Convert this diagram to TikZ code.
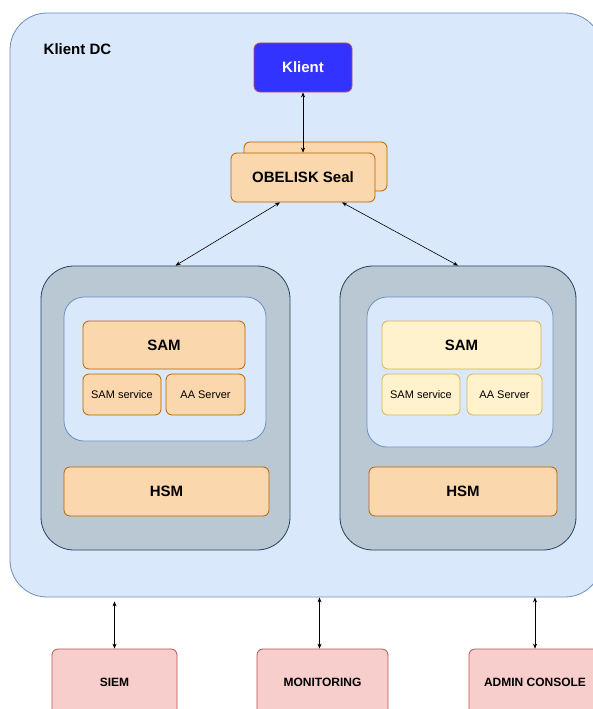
\documentclass[tikz,border=0pt]{standalone}
\usepackage{fontspec}
\setmainfont{Liberation Sans}
\usepackage{xcolor}
\usepackage{tikz}
\usetikzlibrary{arrows.meta}

\definecolor{dcfill}{HTML}{DAE8FC}
\definecolor{dcline}{HTML}{6C8EBF}
\definecolor{hostfill}{HTML}{BAC8D3}
\definecolor{hostline}{HTML}{23445D}
\definecolor{orfill}{HTML}{FAD7AC}
\definecolor{orline}{HTML}{B46504}
\definecolor{yefill}{HTML}{FFF2CC}
\definecolor{yeline}{HTML}{D6B656}
\definecolor{rdfill}{HTML}{F8CECC}
\definecolor{rdline}{HTML}{B85450}
\definecolor{klientblue}{HTML}{3333FF}

\begin{document}
\begin{tikzpicture}%
        [x=1pt, y=-1pt,
        line width=0.8pt,
        box/.style={rectangle, rounded corners=6pt, inner sep=0pt, line width=0.8pt},
        orbox/.style={box, fill=orfill, draw=orline},
        yebox/.style={box, fill=yefill, draw=yeline},
        rdbox/.style={box, fill=rdfill, draw=rdline, font=\bfseries\fontsize{12}{14}\selectfont},
        big/.style={font=\bfseries\fontsize{15}{18}\selectfont},
        small/.style={font=\fontsize{11}{13}\selectfont},
        hostbox/.style={rectangle, rounded corners=33pt, fill=hostfill, draw=hostline},
        innerbox/.style={rectangle, rounded corners=20pt, fill=dcfill, draw=dcline},
        biarrow/.style={color=black, line width=0.6pt, {Stealth[length=5pt,width=4pt]}-{Stealth[length=5pt,width=4pt]}}]
    %% Frame
    \useasboundingbox (0,0) rectangle (593,709);
    \clip (0,0) rectangle (593,709);
    \fill[white] (0,0) rectangle (593,709);
    %%
    %% Data centre
    %%
    \node[rectangle, rounded corners=37pt, fill=dcfill, draw=dcline,
          minimum width=592pt, minimum height=584pt] (dc) at (306,305) {};
    \node[anchor=west, big] (dclabel) at (40,49) {Klient DC};

    \node[box, fill=klientblue, draw=rdline, text=white, big,
          minimum width=98pt, minimum height=49pt] (klient) at (303,67.5) {Klient};
    \node[orbox, minimum width=143pt, minimum height=49pt] (sealback) at (315.5,166.5) {};
    \node[orbox, big, minimum width=144pt, minimum height=49pt] (seal) at (303,177.5) {OBELISK Seal};

    %% Left host
    \node[hostbox, minimum width=249pt, minimum height=284pt] (hostL) at (165.5,408) {};
    \node[innerbox, minimum width=202pt, minimum height=144pt] (innerL) at (165,369) {};
    \node[orbox, big, minimum width=162pt, minimum height=48pt] (samL) at (164,345) {SAM};
    \node[orbox, small, minimum width=78pt, minimum height=41pt] (svcL) at (122,394.5) {SAM service};
    \node[orbox, small, minimum width=79pt, minimum height=41pt] (aaL) at (205.5,394.5) {AA Server};
    \node[orbox, big, minimum width=205pt, minimum height=49pt] (hsmL) at (166.5,491.5) {HSM};

    %% Right host
    \node[hostbox, minimum width=236pt, minimum height=284pt] (hostR) at (458,408) {};
    \node[innerbox, minimum width=186pt, minimum height=150pt] (innerR) at (460,372) {};
    \node[yebox, big, minimum width=159pt, minimum height=48pt] (samR) at (461.5,345) {SAM};
    \node[yebox, small, minimum width=78pt, minimum height=41pt] (svcR) at (421,394.5) {SAM service};
    \node[yebox, small, minimum width=75pt, minimum height=41pt] (aaR) at (504.5,394.5) {AA Server};
    \node[orbox, big, minimum width=188pt, minimum height=49pt] (hsmR) at (463,491.5) {HSM};

    %% Outside
    \node[rdbox, minimum width=125pt, minimum height=66pt] (siem) at (114.5,682) {SIEM};
    \node[rdbox, minimum width=131pt, minimum height=66pt] (monitoring) at (322.5,682) {MONITORING};
    \node[rdbox, minimum width=132pt, minimum height=66pt] (admin) at (535,682) {ADMIN CONSOLE};

    %% Connectors
    \draw[biarrow] (klient) -- (seal);
    \draw[biarrow] ([xshift=-23pt]seal.south) -- ([xshift=10pt]hostL.north);
    \draw[biarrow] ([xshift=39pt]seal.south) -- (hostR.north);
    \draw[biarrow] (siem.north) -- ([yshift=-4pt]siem.north |- dc.south);
    \draw[biarrow] ([xshift=-3pt]monitoring.north) -- ([xshift=-3pt]monitoring.north |- dc.south);
    \draw[biarrow] (admin.north) -- (admin.north |- dc.south);
    \end{tikzpicture}
\end{document}
